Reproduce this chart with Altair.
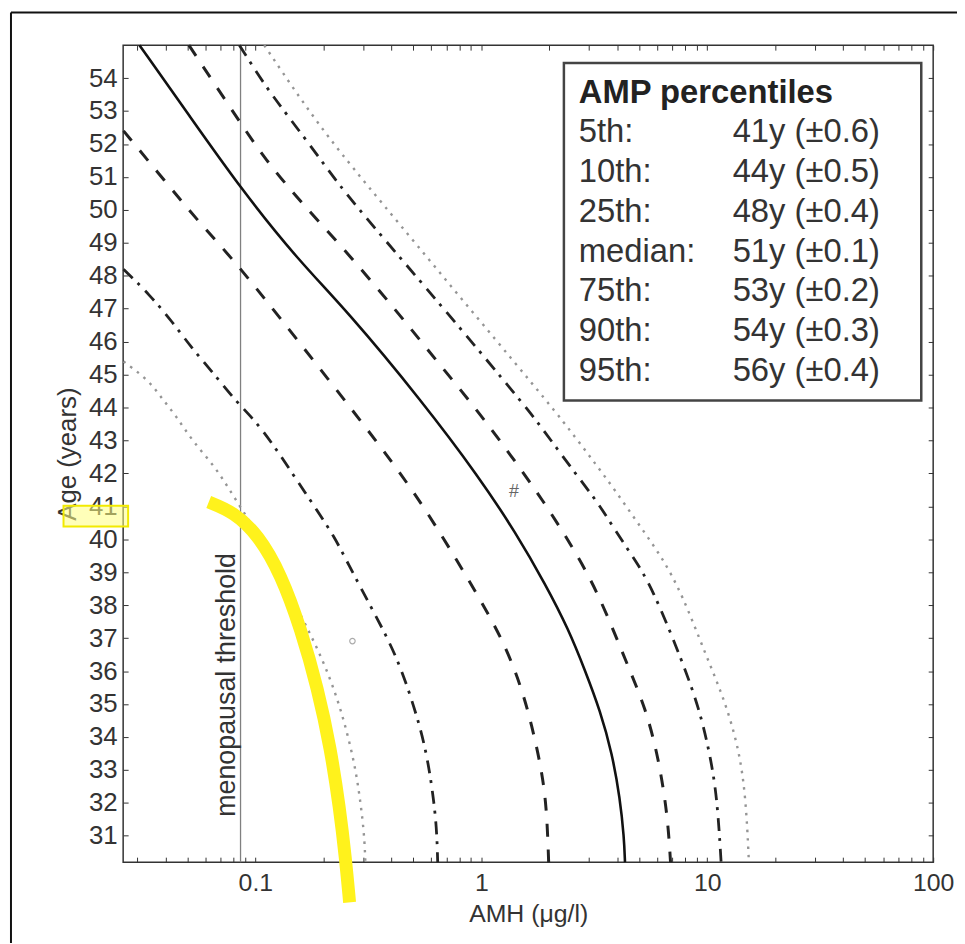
import altair as alt
import pandas as pd

# ---- percentile curves: AMH (ug/l) vs age (years) ----
amh_p5 = [0.0261, 0.0340, 0.0387, 0.0446, 0.0524, 0.0668, 0.0785, 0.1031, 0.1300, 0.1625, 0.1986, 0.2311, 0.2557, 0.2773, 0.2917, 0.3035, 0.3069]
age_p5 = [45.4, 44.81, 44.26, 43.75, 43.00, 42.18, 41.40, 40.13, 38.84, 37.57, 36.36, 35.16, 34.10, 33.05, 32.05, 31.03, 30.2]

amh_p10 = [0.0261, 0.0340, 0.0428, 0.0524, 0.0641, 0.0817, 0.1, 0.1224, 0.1497, 0.1834, 0.2243, 0.2557, 0.3296, 0.4237, 0.5080, 0.5679, 0.6095, 0.635, 0.6413]
age_p10 = [48.2, 47.43, 46.61, 45.80, 45.11, 44.20, 43.60, 42.79, 41.88, 40.98, 40.07, 39.29, 37.87, 36.45, 34.86, 33.65, 32.35, 31.24, 30.2]

amh_p25 = [0.0261, 0.0403, 0.0562, 0.0842, 0.1890, 0.4457, 0.668, 0.9503, 1.262, 1.513, 1.674, 1.833, 1.946, 1.987]
age_p25 = [52.4, 50.83, 49.63, 48.33, 45.26, 42.00, 40.13, 38.38, 36.88, 35.46, 34.34, 33.14, 31.93, 30.2]

amh_p50 = [0.0307, 0.0508, 0.0868, 0.1545, 0.2557, 0.5453, 0.9796, 1.424, 1.928, 2.432, 2.887, 3.357, 3.793, 4.111, 4.285, 4.325]
age_p50 = [55.0, 52.88, 50.62, 48.48, 46.92, 44.20, 41.88, 40.19, 38.62, 37.27, 36.00, 34.80, 33.50, 32.14, 30.94, 30.2]

amh_p75 = [0.0508, 0.0842, 0.1106, 0.1592, 0.2381, 0.4237, 0.6350, 0.9503, 1.355, 1.871, 2.534, 3.293, 4.458, 5.345, 6.093, 6.675, 6.880]
age_p75 = [55.0, 52.73, 51.53, 50.23, 48.94, 46.92, 45.41, 43.96, 42.54, 41.19, 39.77, 38.38, 36.15, 34.86, 33.35, 31.63, 30.2]

amh_p90 = [0.085, 0.1106, 0.1395, 0.1947, 0.2481, 0.4237, 0.7765, 1.497, 1.795, 2.198, 2.690, 3.293, 3.907, 4.784, 5.676, 7.694, 9.226, 10.31, 11.07, 11.52]
age_p90 = [55.0, 53.76, 52.85, 51.53, 50.53, 48.66, 46.55, 44.20, 43.51, 42.69, 41.88, 41.10, 40.28, 39.38, 38.56, 36.36, 34.86, 33.44, 32.14, 30.2]

amh_p95 = [0.1095, 0.1592, 0.2311, 0.4237, 0.9503, 2.069, 2.611, 3.194, 3.907, 4.932, 6.283, 7.694, 9.91, 11.88, 13.82, 14.83, 15.29]
age_p95 = [55.0, 53.34, 51.83, 49.66, 46.76, 43.99, 43.09, 42.30, 41.49, 40.49, 39.47, 38.38, 36.45, 35.16, 33.65, 32.14, 30.2]

threshold_amh = [0.086]
threshold_label = ["menopausal threshold"]
threshold_label_pos = [0.0809, 35.58]

hash_mark = [1.395, 41.43]
circle_mark = [0.269, 36.91]

# yellow hand-drawn highlight
yellow_amh = [0.0622, 0.0801, 0.1031, 0.1300, 0.1592, 0.1890, 0.2153, 0.2360, 0.2506, 0.2613]
yellow_age = [41.13, 40.83, 40.13, 38.93, 37.27, 35.46, 33.65, 31.84, 30.33, 28.98]
ybox_amh = [0.01416, 0.02735]
ybox_age = [40.39, 41.02]

legend_title = "AMP percentiles"
legend_labels = ["5th:", "10th:", "25th:", "median:", "75th:", "90th:", "95th:"]
legend_values = ["41y (\u00b10.6)", "44y (\u00b10.5)", "48y (\u00b10.4)", "51y (\u00b10.1)",
                 "53y (\u00b10.2)", "54y (\u00b10.3)", "56y (\u00b10.4)"]

x_major = [0.1, 1, 10, 100]
x_minor = [0.03, 0.04, 0.05, 0.06, 0.07, 0.08, 0.09,
           0.2, 0.3, 0.4, 0.5, 0.6, 0.7, 0.8, 0.9,
           2, 3, 4, 5, 6, 7, 8, 9,
           20, 30, 40, 50, 60, 70, 80, 90]
y_ticks = list(range(31, 55))

# ---- styling ----
W, H = 816, 823
FONT = "Liberation Sans"
INK = "#333333"

xs = alt.Scale(type="log", domain=[0.026, 100], nice=False)
ys = alt.Scale(domain=[30.2, 55], nice=False, zero=False)
x_ticks = sorted(x_minor + x_major)

x_axis = alt.Axis(values=x_ticks, format="~g",
                  labelExpr="indexof([0.1, 1, 10, 100], datum.value) >= 0 ? datum.label : ''",
                  labelOverlap=False, labelFlush=False, domain=False, grid=False,
                  offset=-5, tickSize=5, tickColor=INK, tickWidth=1,
                  labelPadding=9, labelFont=FONT, labelFontSize=25, labelColor=INK,
                  title="AMH (\u03bcg/l)", titleFont=FONT, titleFontSize=25,
                  titleFontWeight="normal", titleColor=INK, titlePadding=6)
y_axis = alt.Axis(values=y_ticks, labelOverlap=False, labelFlush=False, domain=False, grid=False,
                  offset=-5, tickSize=5, tickColor=INK, tickWidth=1,
                  labelPadding=6, labelFont=FONT, labelFontSize=26, labelColor=INK,
                  title="Age (years)", titleFont=FONT, titleFontSize=26,
                  titleFontWeight="normal", titleColor=INK, titlePadding=8)
x_axis_top = alt.Axis(orient="top", values=x_ticks, labels=False, domain=False, grid=False,
                      offset=-5, tickSize=5, tickColor=INK, tickWidth=1, title="")
y_axis_right = alt.Axis(orient="right", values=y_ticks, labels=False, domain=False, grid=False,
                        offset=-5, tickSize=5, tickColor=INK, tickWidth=1, title="")


def curve(amh, age, color, width, dash=None, ax_x=None, ax_y=None):
    mk = dict(color=color, strokeWidth=width, interpolate="basis", strokeCap="butt")
    if dash:
        mk["strokeDash"] = dash
    df = pd.DataFrame({"amh": amh, "age": age, "i": list(range(len(amh)))})
    return alt.Chart(df).mark_line(**mk).encode(
        x=alt.X("amh:Q", scale=xs, axis=ax_x),
        y=alt.Y("age:Q", scale=ys, axis=ax_y),
        order="i:Q",
    )


DOT = [2.5, 6]
DASH = [13, 13]
DASHDOT = [13, 7, 3, 8]

layers = []

thr = alt.Chart(pd.DataFrame({"amh": threshold_amh})).mark_rule(
    color="#808080", strokeWidth=1.3).encode(x=alt.X("amh:Q", scale=xs, axis=None))
layers.append(thr)

layers.append(curve(amh_p50, age_p50, "#111111", 2.6, None, x_axis, y_axis))
layers.append(curve(amh_p5, age_p5, "#959595", 2.4, DOT))
layers.append(curve(amh_p95, age_p95, "#959595", 2.4, DOT))
layers.append(curve(amh_p10, age_p10, "#222222", 2.8, DASHDOT))
layers.append(curve(amh_p90, age_p90, "#222222", 2.8, DASHDOT))
layers.append(curve(amh_p25, age_p25, "#222222", 3.0, DASH))
layers.append(curve(amh_p75, age_p75, "#222222", 3.0, DASH))

thr_text = alt.Chart(pd.DataFrame({"amh": [threshold_label_pos[0]], "age": [threshold_label_pos[1]],
                                   "t": threshold_label})).mark_text(
    angle=270, align="center", baseline="alphabetic", font=FONT, fontSize=27, color=INK
).encode(x=alt.X("amh:Q", scale=xs, axis=None), y=alt.Y("age:Q", scale=ys, axis=None), text="t:N")
layers.append(thr_text)

hash_df = pd.DataFrame({"amh": [hash_mark[0]], "age": [hash_mark[1]], "t": ["#"]})
layers.append(alt.Chart(hash_df).mark_text(font=FONT, fontSize=18, color="#666666").encode(
    x=alt.X("amh:Q", scale=xs, axis=None), y=alt.Y("age:Q", scale=ys, axis=None), text="t:N"))
circ_df = pd.DataFrame({"amh": [circle_mark[0]], "age": [circle_mark[1]]})
layers.append(alt.Chart(circ_df).mark_point(shape="circle", size=30, filled=False,
                                            color="#888888", strokeWidth=1.2).encode(
    x=alt.X("amh:Q", scale=xs, axis=None), y=alt.Y("age:Q", scale=ys, axis=None)))

# legend box (text table)
one = pd.DataFrame({"a": [0]})
layers.append(alt.Chart(one).mark_rect(fill="white", stroke="#444444", strokeWidth=2.5).encode(
    x=alt.value(444), x2=alt.value(804), y=alt.value(18), y2=alt.value(358)))
layers.append(alt.Chart(one).mark_text(align="left", baseline="middle", font=FONT, fontSize=33,
                                       fontWeight="bold", color="#222222").encode(
    x=alt.value(459), y=alt.value(48), text=alt.value(legend_title)))
for i, (lab, val) in enumerate(zip(legend_labels, legend_values)):
    yy = 88 + 40 * i
    layers.append(alt.Chart(one).mark_text(align="left", baseline="middle", font=FONT,
                                           fontSize=33, color=INK).encode(
        x=alt.value(459), y=alt.value(yy), text=alt.value(lab)))
    layers.append(alt.Chart(one).mark_text(align="left", baseline="middle", font=FONT,
                                           fontSize=33, color=INK).encode(
        x=alt.value(614), y=alt.value(yy), text=alt.value(val)))

# yellow highlights
layers.append(curve(yellow_amh, yellow_age, "#FFF21C", 13))
ybox = pd.DataFrame({"x1": [ybox_amh[0]], "x2": [ybox_amh[1]], "y1": [ybox_age[0]], "y2": [ybox_age[1]]})
layers.append(alt.Chart(ybox).mark_rect(fill="#FFFF80", fillOpacity=0.55, stroke="#F2EA00",
                                        strokeWidth=2).encode(
    x=alt.X("x1:Q", scale=xs, axis=None), x2="x2:Q",
    y=alt.Y("y1:Q", scale=ys, axis=None), y2="y2:Q"))

# outer frame of the page
layers.append(alt.Chart(one).mark_rule(color="#111111", strokeWidth=2).encode(
    x=alt.value(-113), y=alt.value(-33), y2=alt.value(915)))
layers.append(alt.Chart(one).mark_rule(color="#111111", strokeWidth=2).encode(
    x=alt.value(-113), x2=alt.value(860), y=alt.value(-33)))

# mirrored (top / right) tick axes
dummy = pd.DataFrame({"amh": [1.0], "age": [40.0]})
layers.append(alt.Chart(dummy).mark_point(opacity=0).encode(
    x=alt.X("amh:Q", scale=xs, axis=x_axis_top), y=alt.Y("age:Q", scale=ys, axis=y_axis_right)))

chart = alt.layer(*layers).resolve_axis(x="independent", y="independent").properties(
    width=W, height=H,
    autosize=alt.AutoSizeParams(type="none"),
    padding={"left": 116, "top": 34, "right": 24, "bottom": 78},
    background="white",
).configure_view(stroke="#333333", strokeWidth=1.5)

chart.save("out.html", embed_options={"renderer": "svg", "actions": False})
